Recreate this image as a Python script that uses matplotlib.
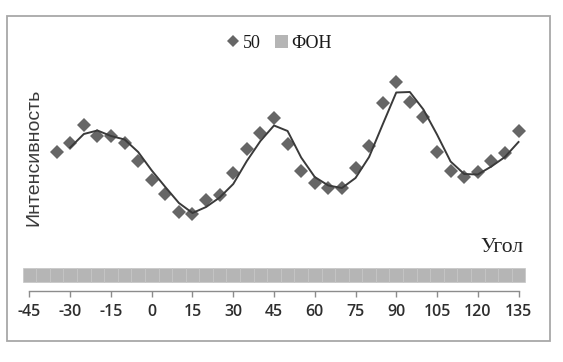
import numpy as np
import matplotlib
matplotlib.use("Agg")
import matplotlib.pyplot as plt
from matplotlib.lines import Line2D
from matplotlib.patches import Patch, Rectangle

# ---- data ----
angles = [-35, -30, -25, -20, -15, -10, -5, 0, 5, 10, 15, 20, 25, 30, 35, 40, 45,
          50, 55, 60, 65, 70, 75, 80, 85, 90, 95, 100, 105, 110, 115, 120, 125, 130, 135]
intensity_50 = [13.9, 14.8, 16.6, 15.5, 15.5, 14.8, 13.0, 11.1, 9.7, 7.9, 7.7, 9.1, 9.6,
                11.8, 14.2, 15.8, 17.3, 14.7, 12.0, 10.8, 10.3, 10.3, 12.3, 14.5, 18.8,
                20.9, 18.9, 17.4, 13.9, 12.0, 11.4, 11.9, 13.0, 13.8, 16.0]
fon_angles = list(range(-45, 140, 5))
fon_bottom = [0.93] * len(fon_angles)
fon_height = [1.34] * len(fon_angles)
xticks = list(range(-45, 150, 15))
series_label = "50"
fon_label = "ФОН"
xlabel = "Угол"
ylabel = "Интенсивность"

W, H = 563, 362
fig = plt.figure(figsize=(W / 100, H / 100), dpi=100)

def fx(px):
    return px / W

def fy(py):
    return (H - py) / H

# axes: x -48..138 mapped to px 21.35..526.65 ; y 0..25 mapped to px 291..41
ax = fig.add_axes([fx(21.35), fy(291), fx(526.65) - fx(21.35), fy(41) - fy(291)])
ax.set_xlim(-48, 138)
ax.set_ylim(0, 25)

# background bars
ax.bar(fon_angles, fon_height, bottom=fon_bottom, width=5, color="#b5b5b5",
       edgecolor="#c6c6c6", linewidth=0.5, zorder=1)

# points
ax.plot(angles, intensity_50, linestyle="none", marker="D", markersize=7.0,
        color="#666666", markeredgewidth=0, zorder=3)

# moving average (period 2) trendline
y = np.array(intensity_50)
ma = (y[1:] + y[:-1]) / 2.0
ax.plot(angles[1:], ma, color="#3a3a3a", linewidth=1.4, zorder=4,
        solid_joinstyle="round")

for s in ["top", "right", "left"]:
    ax.spines[s].set_visible(False)
ax.spines["bottom"].set_bounds(-45, 135)
ax.spines["bottom"].set_color("#8c8c8c")
ax.spines["bottom"].set_linewidth(1.0)
ax.set_yticks([])
ax.set_xticks(xticks)
ax.set_xticklabels([str(t) for t in xticks], fontfamily="Open Sans", fontsize=11.5,
                   color="#2e2e2e", fontweight="semibold")
ax.tick_params(axis="x", direction="out", length=4.3, width=1.0, color="#8c8c8c",
               pad=5.0)
ax.patch.set_alpha(0)

# axis titles
fig.text(fx(502), fy(248), xlabel, fontfamily="Liberation Serif", fontsize=15.5,
         color="#222222", ha="center", va="center")
fig.text(fx(34), fy(157), ylabel, fontfamily="Liberation Sans", fontsize=14,
         color="#3a3a3a", ha="center", va="center", rotation=90)

# legend
handles = [Line2D([0], [0], marker="D", linestyle="none", markersize=6.2,
                  color="#666666", markeredgewidth=0),
           Patch(facecolor="#b5b5b5", edgecolor="none")]
fig.legend(handles, [series_label, fon_label], loc="center",
           bbox_to_anchor=(fx(279), fy(43)), ncol=2, frameon=False,
           prop={"family": "Liberation Serif", "size": 13},
           handlelength=0.7, handletextpad=0.2, columnspacing=0.8,
           handleheight=0.7, labelcolor="#1a1a1a")

# outer frame
fig.patches.append(Rectangle((fx(7.3), fy(341)), fx(550) - fx(7.3), fy(16) - fy(341),
                             transform=fig.transFigure, fill=False,
                             edgecolor="#a8a8a8", linewidth=1.3))

fig.savefig("out.png", dpi=100, facecolor="white")
